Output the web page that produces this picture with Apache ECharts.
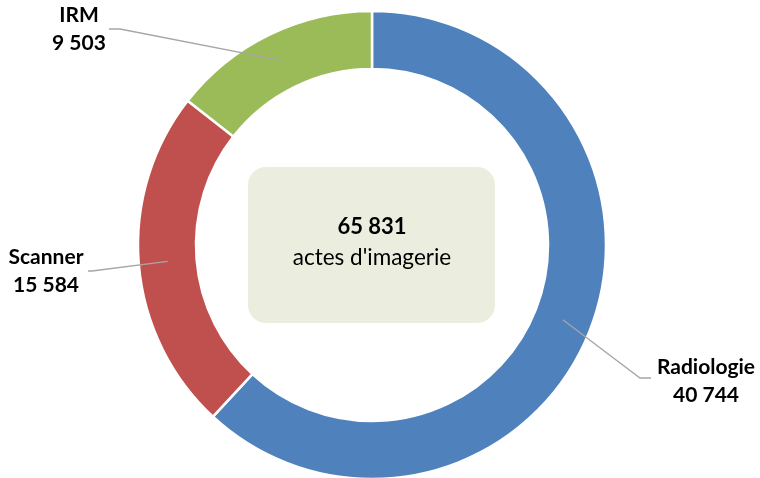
<!DOCTYPE html>
<html>
<head>
<meta charset="utf-8">
<script src="https://cdn.jsdelivr.net/npm/echarts@6/dist/echarts.min.js"></script>
<style>
html,body{margin:0;padding:0;background:#fff;}
#chart{width:760px;height:478px;}
</style>
</head>
<body>
<div id="chart"></div>
<script>
const categories = ['Radiologie', 'Scanner', 'IRM'];
const values = [40744, 15584, 9503];
const colors = ['#4F81BD', '#C0504D', '#9BBB59'];
const centerCaption = "actes d'imagerie";

const fmt = v => String(v).replace(/\B(?=(\d{3})+(?!\d))/g, ' ');
const total = values.reduce((a, b) => a + b, 0);
const data = categories.map((c, i) => ({ name: c, value: values[i], itemStyle: { color: colors[i] } }));

// label placements (layout only)
const labelPos = {
  'Radiologie': { x: 706, y: 381, elbow: [640, 378], end: [651, 378] },
  'Scanner':    { x: 46,  y: 271, elbow: [92, 271],  end: [88, 271] },
  'IRM':        { x: 79,  y: 29,  elbow: [120, 29],  end: [109, 29] }
};

const FONT = 'Lato, "Open Sans", sans-serif';
const chart = echarts.init(document.getElementById('chart'));
chart.setOption({
  animation: false,
  series: [
    {
      type: 'pie',
      center: [372, 245],
      radius: [176, 234],
      startAngle: 90,
      clockwise: true,
      silent: true,
      data: data,
      label: { show: false },
      labelLine: { show: false },
      itemStyle: { borderColor: '#ffffff', borderWidth: 2.5 }
    },
    {
      type: 'pie',
      center: [372, 245],
      radius: [0, 205],
      startAngle: 90,
      clockwise: true,
      silent: true,
      z: 5,
      data: categories.map((c, i) => ({ name: c, value: values[i] })),
      itemStyle: { color: 'rgba(0,0,0,0)', borderWidth: 0 },
      label: {
        show: true,
        position: 'outside',
        formatter: p => p.name + '\n' + fmt(p.value),
        fontFamily: FONT,
        fontWeight: 'bold',
        fontSize: 21,
        lineHeight: 28,
        color: '#000000',
        align: 'center'
      },
      labelLine: { show: true, length: 20, length2: 10, lineStyle: { color: '#A6A6A6', width: 1.3 } },
      labelLayout: function (params) {
        const name = categories[params.dataIndex];
        const lp = labelPos[name];
        const p0 = params.labelLinePoints ? params.labelLinePoints[0] : lp.elbow;
        return {
          x: lp.x, y: lp.y, align: 'center', verticalAlign: 'middle',
          labelLinePoints: [p0, lp.elbow, lp.end]
        };
      }
    }
  ],
  graphic: [
    {
      type: 'rect',
      shape: { x: 248, y: 167, width: 247, height: 156, r: 18 },
      style: { fill: '#EBEDDF' },
      silent: true
    },
    {
      type: 'text',
      x: 372, y: 227,
      style: { text: fmt(total), font: 'bold 22px ' + FONT, fill: '#000', align: 'center', verticalAlign: 'middle' },
      silent: true
    },
    {
      type: 'text',
      x: 372, y: 258,
      style: { text: centerCaption, font: '22.5px ' + FONT, fill: '#000', align: 'center', verticalAlign: 'middle' },
      silent: true
    }
  ]
});
</script>
</body>
</html>
